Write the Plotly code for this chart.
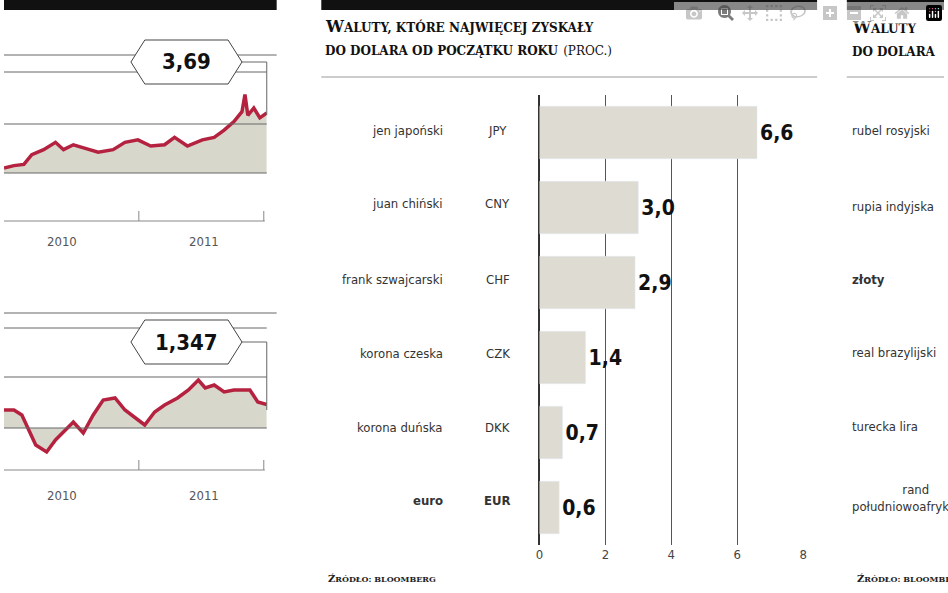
import plotly.graph_objects as go

W, H = 948, 593
def px(x): return x / W
def py(y): return 1 - y / H

# Bar chart data
names = ["jen japoński", "juan chiński", "frank szwajcarski", "korona czeska", "korona duńska", "euro"]
codes = ["JPY", "CNY", "CHF", "CZK", "DKK", "EUR"]
gains = [6.6, 3.0, 2.9, 1.4, 0.7, 0.6]
bar_ticks = [0, 2, 4, 6, 8]

# Left line charts (months since Aug 2009)
t1 = [0, 0.83, 1.66, 2.32, 3.31, 4.30, 4.97, 5.79, 6.79, 7.86, 9.11, 10.1, 11.18, 12.25, 13.41, 14.24,
      15.31, 16.56, 17.55, 18.38, 19.2, 19.87, 20.12, 20.36, 20.86, 21.36, 21.94]
v1 = [3.24, 3.26, 3.27, 3.35, 3.39, 3.45, 3.39, 3.43, 3.40, 3.37, 3.39, 3.45, 3.47, 3.42, 3.43, 3.49,
      3.42, 3.47, 3.49, 3.55, 3.62, 3.70, 3.84, 3.67, 3.73, 3.65, 3.69]
t2 = [0, 0.83, 1.49, 2.07, 2.65, 3.56, 4.30, 5.13, 5.79, 6.62, 7.45, 8.28, 9.27, 10.1, 10.93, 11.75,
      12.58, 13.41, 14.49, 15.4, 16.23, 16.8, 17.55, 18.38, 19.2, 20.53, 21.19, 21.94]
v2 = [1.336, 1.336, 1.326, 1.296, 1.266, 1.252, 1.276, 1.296, 1.312, 1.290, 1.326, 1.356, 1.36, 1.336,
      1.32, 1.306, 1.332, 1.346, 1.36, 1.376, 1.396, 1.38, 1.386, 1.372, 1.376, 1.376, 1.352, 1.347]
year_labels = ["2010", "2011"]
right_labels = ["rubel rosyjski", "rupia indyjska", "<b>złoty</b>", "real brazylijski", "turecka lira",
                "rand<br>południowoafrykański"]

RED = "#b5223f"
FILL = "rgba(190,188,170,0.6)"
BAR = "#dedbd2"
FONT = "DejaVu Sans Condensed"

fig = go.Figure()
fig.add_trace(go.Bar(x=gains, y=codes, orientation="h", marker_color=BAR, width=0.7,
                     text=[f"<b>{g:.1f}</b>".replace(".", ",") for g in gains], textposition="outside",
                     textfont=dict(family=FONT, size=21, color="#111"), cliponaxis=False,
                     xaxis="x", yaxis="y", showlegend=False))

fig.add_trace(go.Scatter(x=[0, 21.94], y=[3.2, 3.2], mode="lines", line=dict(width=0),
                         xaxis="x2", yaxis="y2", showlegend=False, hoverinfo="skip"))
fig.add_trace(go.Scatter(x=t1, y=v1, mode="lines", line=dict(color=RED, width=3.5), fill="tonexty",
                         fillcolor=FILL, xaxis="x2", yaxis="y2", showlegend=False))
fig.add_trace(go.Scatter(x=[0, 21.94], y=[1.3, 1.3], mode="lines", line=dict(width=0),
                         xaxis="x3", yaxis="y3", showlegend=False, hoverinfo="skip"))
fig.add_trace(go.Scatter(x=t2, y=v2, mode="lines", line=dict(color=RED, width=3.5), fill="tonexty",
                         fillcolor=FILL, xaxis="x3", yaxis="y3", showlegend=False))

hid = dict(visible=False, fixedrange=True)
fig.update_layout(
    width=W, height=H, margin=dict(l=0, r=0, t=0, b=0),
    plot_bgcolor="white", paper_bgcolor="white", bargap=0.3,
    xaxis=dict(domain=[px(540), px(806)], range=[0, 8], tickvals=bar_ticks, showgrid=True,
               gridcolor="#555", gridwidth=1, zeroline=True, zerolinecolor="#333", zerolinewidth=2,
               tickfont=dict(family=FONT, size=13, color="#444"), anchor="y", ticks=""),
    yaxis=dict(domain=[py(545), py(95)], autorange="reversed", showticklabels=False, anchor="x"),
    xaxis2=dict(domain=[0, px(265)], range=[0, 21.94], anchor="y2", **hid),
    yaxis2=dict(domain=[py(221), py(40)], range=[2.808, 4.285], anchor="x2", **hid),
    xaxis3=dict(domain=[0, px(265)], range=[0, 21.94], anchor="y3", **hid),
    yaxis3=dict(domain=[py(470), py(300)], range=[1.216, 1.556], anchor="x3", **hid),
)

shapes = []
def line(x0, y0, x1, y1, color="#666", w=1):
    shapes.append(dict(type="line", xref="paper", yref="paper", x0=px(x0), y0=py(y0), x1=px(x1),
                       y1=py(y1), line=dict(color=color, width=w)))
def rect(x0, y0, x1, y1, color):
    shapes.append(dict(type="rect", xref="paper", yref="paper", x0=px(x0), y0=py(y0), x1=px(x1),
                       y1=py(y1), fillcolor=color, line=dict(width=0)))
rect(0, 0, 275, 10, "#111"); rect(320, 0, 820, 10, "#111"); rect(850, 0, 948, 10, "#111")
line(320, 77, 820, 77, "#999"); line(850, 77, 948, 77, "#999")
for ys in [55, 72, 124, 173]:
    line(0, ys, 275 if ys == 55 else 265, ys)
for ys in [313, 328, 377, 428]:
    line(0, ys, 275 if ys == 313 else 265, ys)
line(240, 62, 265, 62); line(265, 62, 265, 115)
line(240, 342, 265, 342); line(265, 342, 265, 410)
for ay in [221, 470]:
    line(0, ay, 263, ay, "#888")
    line(136, ay - 10, 136, ay, "#888"); line(262, ay - 10, 262, ay, "#888")
for cy in [62, 342]:
    x0, x1, hh = 128, 240, 22
    path = (f"M {px(x0)},{py(cy)} L {px(x0+14)},{py(cy-hh)} L {px(x1-14)},{py(cy-hh)} L {px(x1)},{py(cy)} "
            f"L {px(x1-14)},{py(cy+hh)} L {px(x0+14)},{py(cy+hh)} Z")
    shapes.append(dict(type="path", xref="paper", yref="paper", path=path, fillcolor="white",
                       line=dict(color="#444", width=1)))
fig.update_layout(shapes=shapes)

ann = []
def text(x, y, s, size=13, anchor="left", color="#333", family=FONT):
    ann.append(dict(x=px(x), y=py(y), xref="paper", yref="paper", text=s, showarrow=False,
                    xanchor=anchor, yanchor="middle", font=dict(family=family, size=size, color=color)))
text(184, 62, "<b>3,69</b>", 22, "center", "#111")
text(184, 342, "<b>1,347</b>", 22, "center", "#111")
for yl in [242, 495]:
    text(58, yl, year_labels[0], 13, "center", "#555")
    text(202, yl, year_labels[1], 13, "center", "#555")
bar_y = [130, 204, 279, 353, 427, 500]
for i, y in enumerate(bar_y):
    nm = f"<b>{names[i]}</b>" if names[i] == "euro" else names[i]
    cd = f"<b>{codes[i]}</b>" if names[i] == "euro" else codes[i]
    text(445, y, nm, 13, "right")
    text(498, y, cd, 13, "center")
serif = "DejaVu Serif"
text(322, 26, "<b>W<span style='font-size:12px'>ALUTY, KTÓRE NAJWIĘCEJ ZYSKAŁY</span></b>", 16, family=serif, color="#111")
text(322, 50, "<b><span style='font-size:12px'>DO DOLARA OD POCZĄTKU ROKU</span></b> <span style='font-size:12px'>(PROC.)</span>", 16, family=serif, color="#111")
text(325, 578, "<b>Ź<span style='font-size:8px'>RÓDŁO: BLOOMBERG</span></b>", 10, family=serif, color="#222")
text(853, 28, "<b>W<span style='font-size:12px'>ALUTY</span></b>", 16, family=serif, color="#111")
text(853, 52, "<b><span style='font-size:12px'>DO DOLARA</span></b>", 16, family=serif, color="#111")
text(858, 578, "<b>Ź<span style='font-size:8px'>RÓDŁO: BLOOMBERG</span></b>", 10, family=serif, color="#222")
for i, y in enumerate([130, 206, 279, 352, 426, 498]):
    text(853, y, right_labels[i], 13)
fig.update_layout(annotations=ann)

fig.write_html("out.html", post_script="document.body.style.margin='0';document.body.style.overflow='hidden';")
